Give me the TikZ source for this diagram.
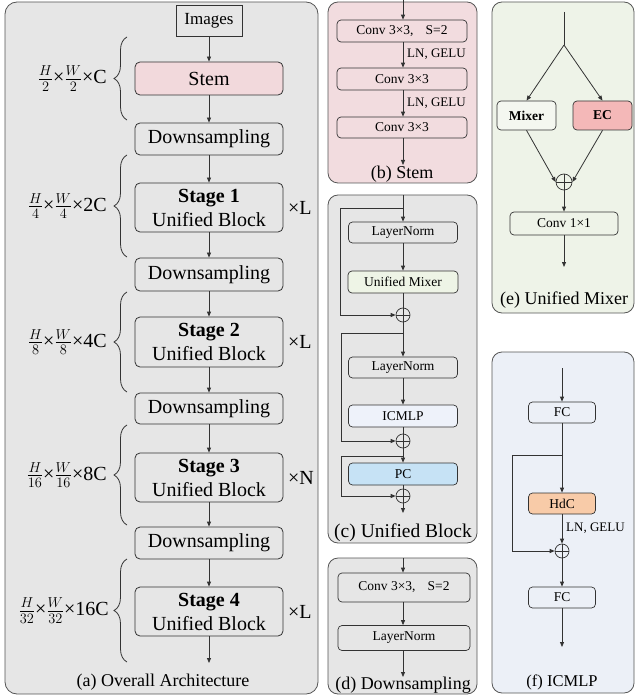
\documentclass[tikz,border=0pt]{standalone}
\usepackage{fontspec}
\setmainfont{Liberation Serif}
\usetikzlibrary{arrows.meta,decorations.pathreplacing,calc}
\definecolor{panelgray}{HTML}{E6E6E6}
\definecolor{stempink}{HTML}{F2D9DC}
\definecolor{panelpink}{HTML}{F2DCDF}
\definecolor{panelgreen}{HTML}{EEF3E8}
\definecolor{boxgreen}{HTML}{EEF4E6}
\definecolor{mixwhite}{HTML}{F4F7F0}
\definecolor{ecred}{HTML}{F4B8B8}
\definecolor{panelblue}{HTML}{ECF0F7}
\definecolor{icmlpfill}{HTML}{EEF2FA}
\definecolor{pcblue}{HTML}{C6E2F5}
\definecolor{hdcorange}{HTML}{F8CBA8}
\definecolor{edgegray}{HTML}{333333}
\definecolor{panelline}{HTML}{555555}
\tikzset{
  panel/.style={draw=panelline, line width=0.8pt, rounded corners=12pt},
  bigbox/.style={draw=edgegray, line width=0.8pt, rounded corners=5pt, minimum width=148pt, inner sep=0pt, font=\fontsize{20}{24}\selectfont, align=center},
  smallbox/.style={draw=edgegray, line width=0.7pt, rounded corners=4pt, inner sep=0pt, font=\fontsize{13.5}{16}\selectfont},
  arr/.style={draw=edgegray, line width=0.8pt, -{Triangle[length=5pt,width=4pt]}},
  ln/.style={draw=edgegray, line width=0.8pt},
  plus/.style={circle, draw=edgegray, line width=0.7pt, minimum size=14pt, inner sep=0pt,
    path picture={\draw[edgegray, line width=0.7pt] (path picture bounding box.north) -- (path picture bounding box.south) (path picture bounding box.west) -- (path picture bounding box.east);}},
  captext/.style={font=\fontsize{18}{20}\selectfont, inner sep=0pt},
  dimlab/.style={font=\fontsize{20}{24}\selectfont, anchor=east, inner sep=0pt},
  rep/.style={font=\fontsize{20}{24}\selectfont, anchor=west, inner sep=0pt},
  actlab/.style={font=\fontsize{13}{15}\selectfont, anchor=west, inner sep=0pt},
  bracestyle/.style={draw=edgegray, line width=0.8pt, decorate, decoration={brace, amplitude=13pt}}
}
\begin{document}
\begin{tikzpicture}[x=1pt, y=-1pt]
\useasboundingbox (0,0) rectangle (635,700);
% ---------------- panels
\path[panel, fill=panelgray] (5,2) rectangle (318,694);
\path[panel, fill=panelpink, rounded corners=10pt] (328,2) rectangle (477,183);
\path[panel, fill=panelgray, rounded corners=10pt] (328,195) rectangle (477,543);
\path[panel, fill=panelgray, rounded corners=10pt] (328,558) rectangle (477,694);
\path[panel, fill=panelgreen, rounded corners=10pt] (492,2) rectangle (634,313);
\path[panel, fill=panelblue, rounded corners=10pt] (492,352) rectangle (634,693);

% ---------------- (a) Overall Architecture
\node[draw=edgegray, line width=0.8pt, minimum width=66pt, minimum height=31pt, inner sep=0pt, font=\fontsize{17}{20}\selectfont] (img) at (209,20.5) {Images};
\node[bigbox, fill=stempink, minimum height=33pt] (stem) at (209,78.5) {Stem};
\node[bigbox, minimum height=32pt] (ds1) at (209,139) {Downsampling};
\node[bigbox, minimum height=49pt] (s1) at (209,207.5) {\textbf{Stage 1}\\Unified Block};
\node[bigbox, minimum height=33pt] (ds2) at (209,274.5) {Downsampling};
\node[bigbox, minimum height=50pt] (s2) at (209,342) {\textbf{Stage 2}\\Unified Block};
\node[bigbox, minimum height=31pt] (ds3) at (209,408.5) {Downsampling};
\node[bigbox, minimum height=49pt] (s3) at (209,477.5) {\textbf{Stage 3}\\Unified Block};
\node[bigbox, minimum height=32pt] (ds4) at (209,543) {Downsampling};
\node[bigbox, minimum height=49pt] (s4) at (209,611.5) {\textbf{Stage 4}\\Unified Block};
\coordinate (aend) at (209,663);
\draw[arr] (img) -- (stem);
\draw[arr] (stem) -- (ds1);
\draw[arr] (ds1) -- (s1);
\draw[arr] (s1) -- (ds2);
\draw[arr] (ds2) -- (s2);
\draw[arr] (s2) -- (ds3);
\draw[arr] (ds3) -- (s3);
\draw[arr] (s3) -- (ds4);
\draw[arr] (ds4) -- (s4);
\draw[arr] (s4) -- (aend);

\draw[bracestyle] (127,120) -- (127,37);
\draw[bracestyle] (127,257) -- (127,155);
\draw[bracestyle] (127,392) -- (127,292);
\draw[bracestyle] (127,525) -- (127,425);
\draw[bracestyle] (127,662) -- (127,559);
\node[dimlab] (d1) at (107,78.5) {$\frac{H}{2}$×$\frac{W}{2}$×C};
\node[dimlab] (d2) at (107,206) {$\frac{H}{4}$×$\frac{W}{4}$×2C};
\node[dimlab] (d3) at (107,342) {$\frac{H}{8}$×$\frac{W}{8}$×4C};
\node[dimlab] (d4) at (107,475) {$\frac{H}{16}$×$\frac{W}{16}$×8C};
\node[dimlab] (d5) at (109,610.5) {$\frac{H}{32}$×$\frac{W}{32}$×16C};
\node[rep] (r1) at (288,207.5) {×L};
\node[rep] (r2) at (288,342) {×L};
\node[rep] (r3) at (288,477.5) {×N};
\node[rep] (r4) at (288,611.5) {×L};
\node[captext] (capa) at (163,682) {(a) Overall Architecture};

% ---------------- (b) Stem
\coordinate (btop) at (403,0);
\node[smallbox, minimum width=130pt, minimum height=22pt] (b1) at (402,31) {Conv 3×3,\hspace{0.9em}S=2};
\node[smallbox, minimum width=130pt, minimum height=22pt] (b2) at (402,79) {Conv 3×3};
\node[smallbox, minimum width=130pt, minimum height=21pt] (b3) at (402,127.5) {Conv 3×3};
\coordinate (bend) at (403,165);
\draw[arr] (btop) -- (btop |- b1.north);
\draw[arr] (b1.south -| btop) -- (b2.north -| btop);
\draw[arr] (b2.south -| btop) -- (b3.north -| btop);
\draw[arr] (b3.south -| btop) -- (bend);
\node[actlab] (bl1) at (407,54) {LN, GELU};
\node[actlab] (bl2) at (407,103) {LN, GELU};
\node[captext] (capb) at (402,174) {(b) Stem};

% ---------------- (c) Unified Block
\coordinate (ctop) at (403,195);
\node[smallbox, minimum width=109pt, minimum height=21pt] (ln1) at (403,232.5) {LayerNorm};
\node[smallbox, fill=boxgreen, minimum width=110pt, minimum height=22pt] (um) at (403,282) {Unified Mixer};
\node[plus] (p1) at (403,315) {};
\node[smallbox, minimum width=109pt, minimum height=21pt] (ln2) at (403,367.5) {LayerNorm};
\node[smallbox, fill=icmlpfill, minimum width=109pt, minimum height=22pt] (icm) at (403,416) {ICMLP};
\node[plus] (p2) at (403,441) {};
\node[smallbox, fill=pcblue, minimum width=109pt, minimum height=22pt] (pc) at (403,474) {PC};
\node[plus] (p3) at (403,496) {};
\coordinate (cend) at (403,513);
\draw[arr] (ctop) -- (ln1);
\draw[arr] (ln1) -- (um);
\draw[ln] (um) -- (p1);
\draw[arr] (p1) -- (ln2);
\draw[arr] (ln2) -- (icm);
\draw[ln] (icm) -- (p2);
\draw[arr] (p2) -- (pc);
\draw[ln] (pc) -- (p3);
\draw[arr] (p3) -- (cend);
\coordinate (k1) at (403,208);
\coordinate (k2) at (403,333);
\coordinate (k3) at (403,456);
\draw[arr] (k1) -- (340,208) |- (p1.west);
\draw[arr] (k2) -- (341,333) |- (p2.west);
\draw[arr] (k3) -- (341,456) |- (p3.west);
\node[captext, font=\fontsize{19.5}{22}\selectfont] (capc) at (403,533) {(c) Unified Block};

% ---------------- (d) Downsampling
\coordinate (dtop) at (403,558);
\node[smallbox, minimum width=132pt, minimum height=29pt] (dd1) at (404,587.5) {Conv 3×3,\hspace{0.9em}S=2};
\node[smallbox, minimum width=132pt, minimum height=25pt] (dd2) at (404,638) {LayerNorm};
\coordinate (dend) at (403,677);
\draw[arr] (dtop) -- (dtop |- dd1.north);
\draw[arr] (dd1.south -| dtop) -- (dd2.north -| dtop);
\draw[arr] (dd2.south -| dtop) -- (dend);
\node[captext] (capd) at (403,685) {(d) Downsampling};

% ---------------- (e) Unified Mixer
\coordinate (etop) at (564,12);
\coordinate (ebr) at (564,45);
\node[smallbox, fill=mixwhite, minimum width=59pt, minimum height=29pt, font=\fontsize{13.5}{16}\selectfont\bfseries] (mix) at (526.5,115.5) {Mixer};
\node[smallbox, fill=ecred, minimum width=59pt, minimum height=29pt, font=\fontsize{13.5}{16}\selectfont\bfseries] (ec) at (602.5,115.5) {EC};
\node[plus, minimum size=16pt] (ep) at (564,182) {};
\node[smallbox, minimum width=108pt, minimum height=23pt] (c11) at (564,223.5) {Conv 1×1};
\coordinate (eend) at (564,267);
\draw[ln] (etop) -- (ebr);
\draw[arr] (ebr) -- (mix.north);
\draw[arr] (ebr) -- (ec.north);
\draw[arr] (mix.south) -- (ep.west);
\draw[arr] (ec.south) -- (ep.east);
\draw[arr] (ep) -- (c11);
\draw[arr] (c11) -- (eend);
\node[captext] (cape) at (564,300) {(e) Unified Mixer};

% ---------------- (f) ICMLP
\coordinate (ftop) at (562,368);
\node[smallbox, minimum width=67pt, minimum height=21pt] (fc1) at (562,412.5) {FC};
\node[smallbox, fill=hdcorange, minimum width=67pt, minimum height=21pt] (hdc) at (562,503.5) {HdC};
\node[plus] (fp) at (562,551) {};
\node[smallbox, minimum width=67pt, minimum height=21pt] (fc2) at (562,597.5) {FC};
\coordinate (fend) at (562,647);
\draw[arr] (ftop) -- (fc1);
\draw[arr] (fc1) -- (hdc);
\draw[arr] (hdc) -- (fp);
\draw[arr] (fp) -- (fc2);
\draw[arr] (fc2) -- (fend);
\coordinate (k4) at (562,455);
\draw[arr] (k4) -- (512,455) |- (fp.west);
\node[actlab] (fl) at (566,528) {LN, GELU};
\node[captext, font=\fontsize{16.5}{19}\selectfont] (capf) at (562,682) {(f) ICMLP};
\end{tikzpicture}
\end{document}
